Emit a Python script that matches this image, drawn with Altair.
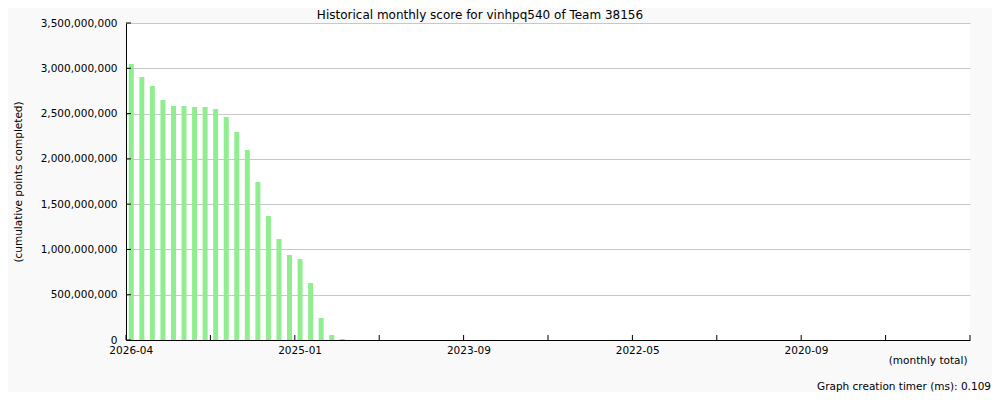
import altair as alt
import pandas as pd

# ---- data ----
slots = list(range(80))  # monthly slots, newest (2026-04) on the left
scores = [
    3048e6, 2904e6, 2805e6, 2650e6, 2584e6, 2584e6, 2573e6, 2573e6, 2551e6, 2463e6,
    2297e6, 2098e6, 1745e6, 1369e6, 1115e6, 939e6, 894e6, 629e6, 243e6, 55e6,
    11e6, 0, 0, 0, 0, 0, 0, 0, 0, 0,
    0, 0, 0, 0, 0, 0, 0, 0, 0, 0,
    0, 0, 0, 0, 0, 0, 0, 0, 0, 0,
    0, 0, 0, 0, 0, 0, 0, 0, 0, 0,
    0, 0, 0, 0, 0, 0, 0, 0, 0, 0,
    0, 0, 0, 0, 0, 0, 0, 0, 0, 0,
]
tick_slots = [0, 8, 16, 24, 32, 40, 48, 56, 64, 72]
end_slot = [79]
label_slots = [0, 16, 32, 48, 64]
tick_labels = ["2026-04", "2025-01", "2023-09", "2022-05", "2020-09"]
y_ticks = [0, 500e6, 1000e6, 1500e6, 2000e6, 2500e6, 3000e6, 3500e6]

title_text = "Historical monthly score for vinhpq540 of Team 38156"
y_title = "(cumulative points completed)"
x_title = "(monthly total)"
timer_text = "Graph creation timer (ms): 0.109"

FONT = "DejaVu Sans"
W, H = 844, 317

df = pd.DataFrame({"slot": slots, "score": scores})
xscale = alt.Scale(domain=slots, paddingInner=0, paddingOuter=0)
yscale = alt.Scale(domain=[0, 3.5e9], nice=False, zero=True)

label_expr = "[" + ",".join("'%s'" % l for l in tick_labels) + "][datum.value / 16]"

x_axis = alt.Axis(
    values=label_slots,
    labelExpr=label_expr,
    bandPosition=0.3,
    labelAngle=0,
    ticks=False,
    tickSize=0,
    labelPadding=5,
    labelFont=FONT,
    labelFontSize=10.5,
    labelColor="black",
    domainColor="black",
    title=x_title,
    titleFont=FONT,
    titleFontSize=10.5,
    titleFontWeight="normal",
    titleColor="black",
    titleAlign="right",
    titleBaseline="alphabetic",
    titleX=841,
    titleY=23,
)
y_axis = alt.Axis(
    values=y_ticks,
    format=",d",
    ticks=False,
    tickSize=0,
    grid=True,
    gridColor="#c8c8c8",
    labelPadding=9,
    labelFont=FONT,
    labelFontSize=10.5,
    labelColor="black",
    domainColor="black",
    title=y_title,
    titleFont=FONT,
    titleFontSize=10.5,
    titleFontWeight="normal",
    titleColor="black",
    titlePadding=17,
)

bars = alt.Chart(df).mark_bar(color="#90ee90", size=5).encode(
    x=alt.X("slot:O", scale=xscale, axis=x_axis),
    y=alt.Y("score:Q", scale=yscale, axis=y_axis),
)

yt = alt.Chart(pd.DataFrame({"score": y_ticks})).mark_rule(color="black").encode(
    y=alt.Y("score:Q", scale=yscale, axis=y_axis),
    x=alt.value(0),
    x2=alt.value(5),
)

xt = alt.Chart(pd.DataFrame({"slot": tick_slots})).mark_rule(color="black").encode(
    x=alt.X("slot:O", scale=xscale, bandPosition=0, axis=x_axis),
    y=alt.value(H),
    y2=alt.value(H - 5),
)

xt_end = alt.Chart(pd.DataFrame({"slot": end_slot})).mark_rule(color="black").encode(
    x=alt.X("slot:O", scale=xscale, bandPosition=1, axis=x_axis),
    y=alt.value(H),
    y2=alt.value(H - 5),
)

timer = alt.Chart(pd.DataFrame({"t": [timer_text]})).mark_text(
    align="right", baseline="alphabetic", font=FONT, fontSize=10.5, color="black"
).encode(
    text="t:N",
    x=alt.value(W + 21),
    y=alt.value(H + 50),
)

chart = (
    alt.layer(bars, yt, xt, xt_end, timer)
    .properties(
        width=W,
        height=H,
        padding={"left": 118, "top": 15, "right": 22, "bottom": 52},
        autosize=alt.AutoSizeParams(type="none"),
        background="#f9f9f9",
        title=alt.TitleParams(
            text=title_text,
            font=FONT,
            fontSize=12,
            fontWeight="normal",
            color="black",
            anchor="middle",
            frame="group",
            dx=-68,
            dy=6,
            offset=2,
        ),
    )
    .configure_view(fill="white", strokeWidth=0)
)

chart.save("out.html", embed_options={"renderer": "svg", "actions": False})
